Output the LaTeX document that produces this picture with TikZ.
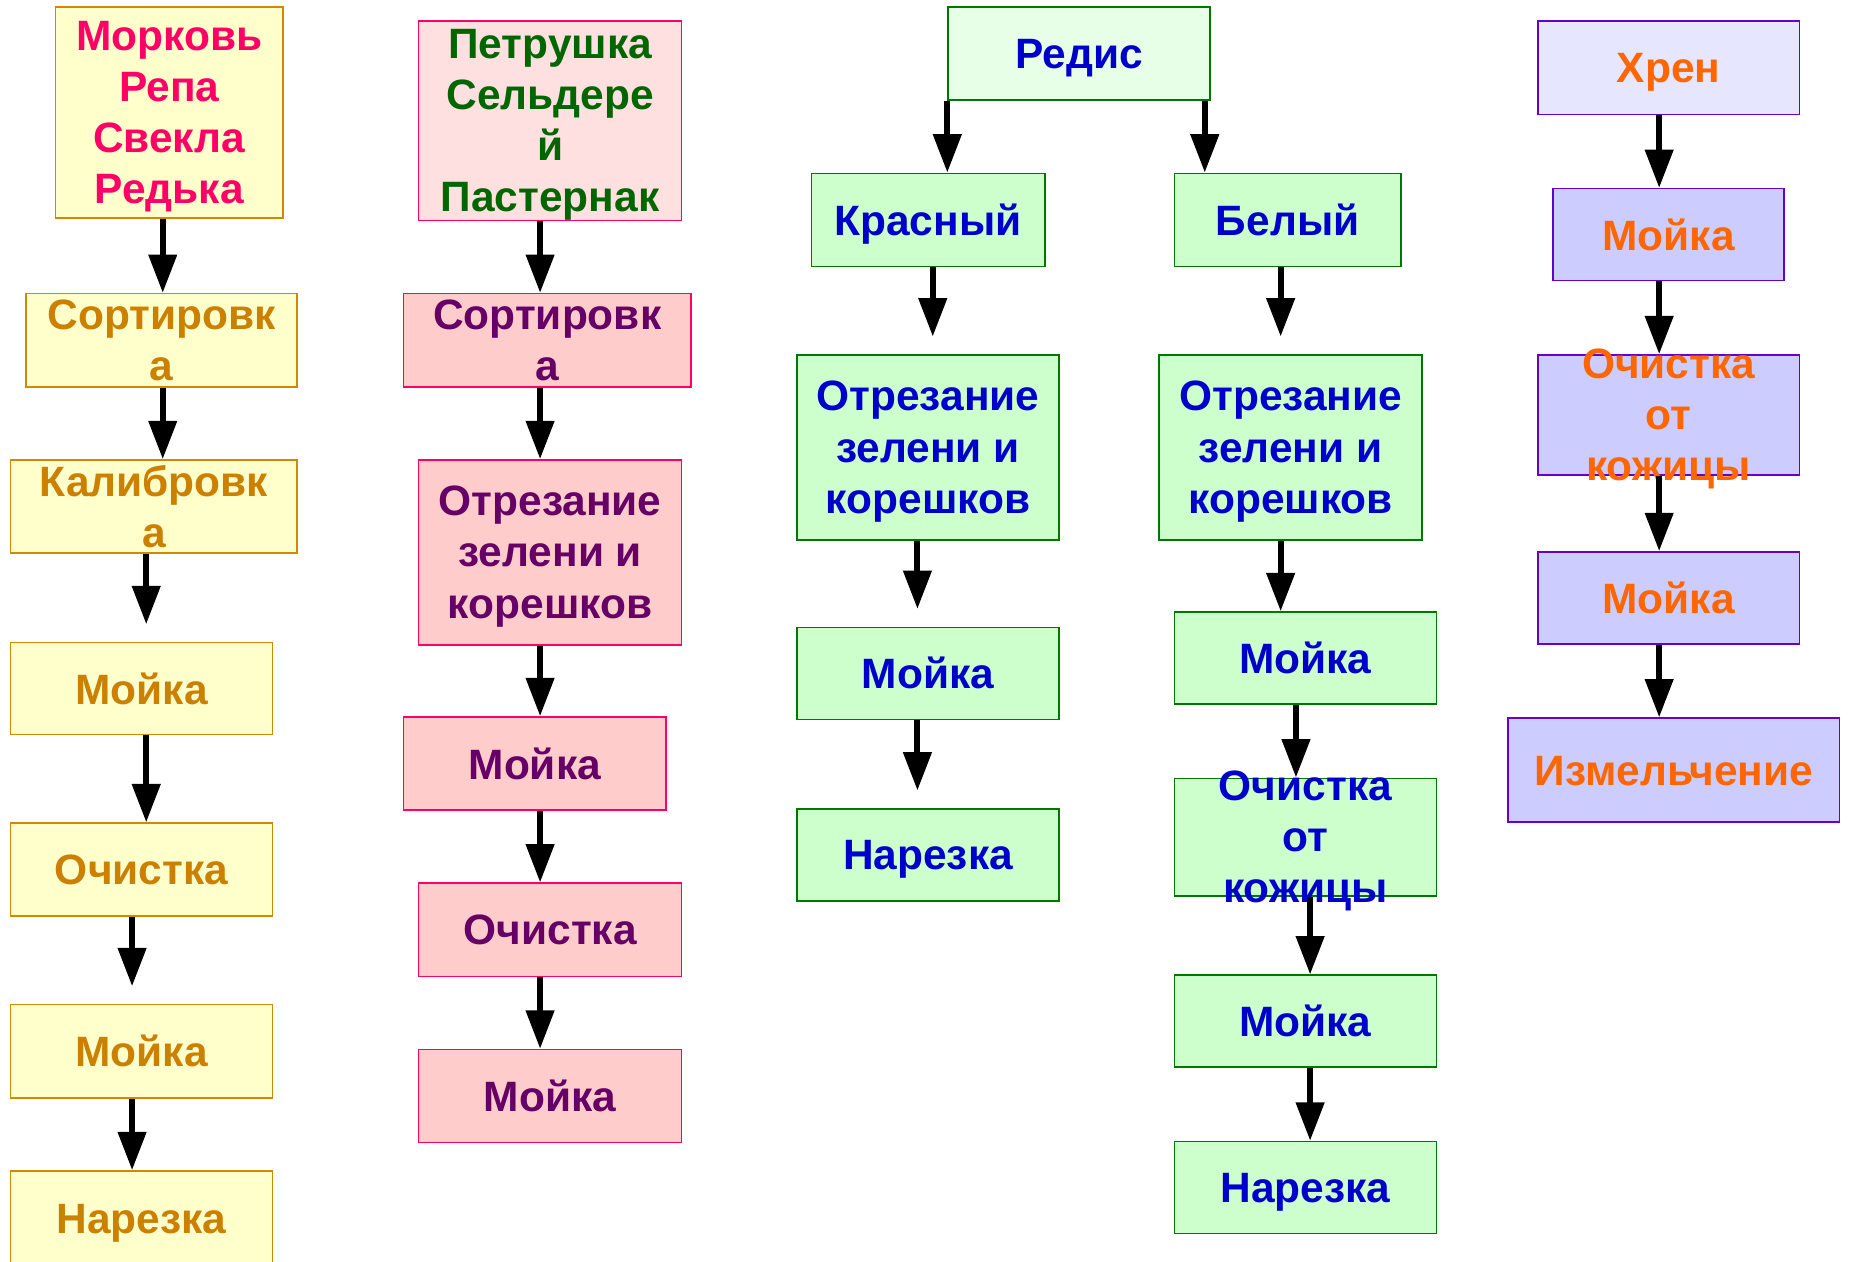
\documentclass[tikz,border=0pt]{standalone}
\usepackage{fontspec}
\setmainfont{Liberation Sans}
\usepackage{xcolor}
\usetikzlibrary{arrows.meta, fit, calc}

\definecolor{yfill}{HTML}{FFFFCC}
\definecolor{yedge}{HTML}{D08A00}
\definecolor{ytext}{HTML}{CC8000}
\definecolor{ytitle}{HTML}{FF0066}
\definecolor{pfill}{HTML}{FFCCCC}
\definecolor{plight}{HTML}{FFE0E0}
\definecolor{pedge}{HTML}{FF0066}
\definecolor{ptext}{HTML}{660066}
\definecolor{ptitle}{HTML}{006600}
\definecolor{gfill}{HTML}{CCFFCC}
\definecolor{glight}{HTML}{E6FFE6}
\definecolor{gedge}{HTML}{007700}
\definecolor{gtext}{HTML}{0000CC}
\definecolor{lfill}{HTML}{CCCCFF}
\definecolor{llight}{HTML}{E6E6FF}
\definecolor{ledge}{HTML}{6600CC}
\definecolor{ltext}{HTML}{FF6600}

\newcommand{\boxstrut}{\rule[-4.5pt]{0pt}{20.1pt}}

\begin{document}
\begin{tikzpicture}[x=0.6pt, y=-0.6pt,
    box/.style={draw, line width=0.8pt, inner sep=0pt},
    txt/.style={inner sep=0pt, align=center, yshift=-2.1pt,
        font=\bfseries\fontsize{21.6}{26}\selectfont,
        execute at begin node=\boxstrut, execute at end node=\boxstrut},
    ybox/.style={box, draw=yedge, fill=yfill},
    pbox/.style={box, draw=pedge, fill=pfill},
    gbox/.style={box, draw=gedge, fill=gfill},
    lbox/.style={box, draw=ledge, fill=lfill},
    flow/.style={line width=3pt, -{Triangle[length=19.5pt, width=14pt]}}]

    \useasboundingbox (0,0) rectangle (1568,1070);

    % carrot, turnip, beet, radish
    \node[ybox, fit={(47,6) (240,185)}] (c1a) {};
    \node[txt, text=ytitle] (c1a-t) at (c1a) {Морковь\\Репа\\Свекла\\Редька};
    \node[ybox, fit={(22,249) (252,328)}] (c1b) {};
    \node[txt, text=ytext] (c1b-t) at (c1b) {Сортировк\\а};
    \node[ybox, fit={(9,390) (252,469)}] (c1c) {};
    \node[txt, text=ytext] (c1c-t) at (c1c) {Калибровк\\а};
    \node[ybox, fit={(9,545) (231,623)}] (c1d) {};
    \node[txt, text=ytext] (c1d-t) at (c1d) {Мойка};
    \node[ybox, fit={(9,698) (231,777)}] (c1e) {};
    \node[txt, text=ytext] (c1e-t) at (c1e) {Очистка};
    \node[ybox, fit={(9,852) (231,931)}] (c1f) {};
    \node[txt, text=ytext] (c1f-t) at (c1f) {Мойка};
    \node[ybox, fit={(9,993) (231,1074)}] (c1g) {};
    \node[txt, text=ytext] (c1g-t) at (c1g) {Нарезка};

    \draw[flow] ($(c1a.south)+(-5.5,0)$) -- ($(c1a.south |- c1b.north)+(-5.5,0)$);
    \draw[flow] ($(c1b.south)+(1,0)$) -- ($(c1b.south |- c1c.north)+(1,0)$);
    \draw[flow, shorten >=9pt] ($(c1c.south)+(-6.5,0)$) -- ($(c1c.south |- c1d.north)+(-6.5,0)$);
    \draw[flow] ($(c1d.south)+(4,0)$) -- ($(c1d.south |- c1e.north)+(4,0)$);
    \draw[flow, shorten >=9pt] ($(c1e.south)+(-8,0)$) -- ($(c1e.south |- c1f.north)+(-8,0)$);
    \draw[flow] ($(c1f.south)+(-8,0)$) -- ($(c1f.south |- c1g.north)+(-8,0)$);

    % parsley, celery, parsnip
    \node[pbox, fill=plight, fit={(355,18) (578,187)}] (c2a) {};
    \node[txt, text=ptitle] (c2a-t) at (c2a) {Петрушка\\Сельдере\\й\\Пастернак};
    \node[pbox, fit={(342,249) (586,328)}] (c2b) {};
    \node[txt, text=ptext] (c2b-t) at (c2b) {Сортировк\\а};
    \node[pbox, fit={(355,390) (578,547)}] (c2c) {};
    \node[txt, text=ptext] (c2c-t) at (c2c) {Отрезание\\зелени и\\корешков};
    \node[pbox, fit={(342,608) (565,687)}] (c2d) {};
    \node[txt, text=ptext] (c2d-t) at (c2d) {Мойка};
    \node[pbox, fit={(355,749) (578,828)}] (c2e) {};
    \node[txt, text=ptext] (c2e-t) at (c2e) {Очистка};
    \node[pbox, fit={(355,890) (578,969)}] (c2f) {};
    \node[txt, text=ptext] (c2f-t) at (c2f) {Мойка};

    \draw[flow] ($(c2a.south)+(-8.5,0)$) -- ($(c2a.south |- c2b.north)+(-8.5,0)$);
    \draw[flow] ($(c2b.south)+(-6,0)$) -- ($(c2b.south |- c2c.north)+(-6,0)$);
    \draw[flow] ($(c2c.south)+(-8.5,0)$) -- ($(c2c.south |- c2d.north)+(-8.5,0)$);
    \draw[flow] ($(c2d.south)+(4.5,0)$) -- ($(c2d.south |- c2e.north)+(4.5,0)$);
    \draw[flow] ($(c2e.south)+(-8.5,0)$) -- ($(c2e.south |- c2f.north)+(-8.5,0)$);

    % radish
    \node[gbox, fill=glight, fit={(804,6) (1026,85)}] (c3a) {};
    \node[txt, text=gtext] (c3a-t) at (c3a) {Редис};
    \node[gbox, fit={(688,147) (886,226)}] (c3b) {};
    \node[txt, text=gtext] (c3b-t) at (c3b) {Красный};
    \node[gbox, fit={(676,301) (898,458)}] (c3c) {};
    \node[txt, text=gtext] (c3c-t) at (c3c) {Отрезание\\зелени и\\корешков};
    \node[gbox, fit={(676,532) (898,610)}] (c3d) {};
    \node[txt, text=gtext] (c3d-t) at (c3d) {Мойка};
    \node[gbox, fit={(676,686) (898,764)}] (c3e) {};
    \node[txt, text=gtext] (c3e-t) at (c3e) {Нарезка};
    \node[gbox, fit={(996,147) (1188,226)}] (c3f) {};
    \node[txt, text=gtext] (c3f-t) at (c3f) {Белый};
    \node[gbox, fit={(983,301) (1206,458)}] (c3g) {};
    \node[txt, text=gtext] (c3g-t) at (c3g) {Отрезание\\зелени и\\корешков};
    \node[gbox, fit={(996,519) (1218,597)}] (c3h) {};
    \node[txt, text=gtext] (c3h-t) at (c3h) {Мойка};
    \node[gbox, fit={(996,660) (1218,760)}] (c3i) {};
    \node[txt, text=gtext] (c3i-t) at (c3i) {Очистка\\от\\кожицы};
    \node[gbox, fit={(996,827) (1218,905)}] (c3j) {};
    \node[txt, text=gtext] (c3j-t) at (c3j) {Мойка};
    \node[gbox, fit={(996,968) (1218,1046)}] (c3k) {};
    \node[txt, text=gtext] (c3k-t) at (c3k) {Нарезка};

    \draw[flow] (c3a.south west) -- (c3a.south west |- c3b.north);
    \draw[flow] ($(c3a.south east)+(-5,0)$) -- ($(c3a.south east |- c3f.north)+(-5,0)$);
    \draw[flow, shorten >=9pt] ($(c3b.south)+(4,0)$) -- ($(c3b.south |- c3c.north)+(4,0)$);
    \draw[flow, shorten >=9pt] ($(c3c.south)+(-9,0)$) -- ($(c3c.south |- c3d.north)+(-9,0)$);
    \draw[flow, shorten >=9pt] ($(c3d.south)+(-9,0)$) -- ($(c3d.south |- c3e.north)+(-9,0)$);
    \draw[flow, shorten >=9pt] ($(c3f.south)+(-6,0)$) -- ($(c3f.south |- c3g.north)+(-6,0)$);
    \draw[flow] ($(c3g.south)+(-8.5,0)$) -- ($(c3g.south |- c3h.north)+(-8.5,0)$);
    \draw[flow] ($(c3h.south)+(-8,0)$) -- ($(c3h.south |- c3i.north)+(-8,0)$);
    \draw[flow] ($(c3i.south)+(4,0)$) -- ($(c3i.south |- c3j.north)+(4,0)$);
    \draw[flow] ($(c3j.south)+(4,0)$) -- ($(c3j.south |- c3k.north)+(4,0)$);

    % horseradish
    \node[lbox, fill=llight, fit={(1304,18) (1526,97)}] (c4a) {};
    \node[txt, text=ltext] (c4a-t) at (c4a) {Хрен};
    \node[lbox, fit={(1317,160) (1513,238)}] (c4b) {};
    \node[txt, text=ltext] (c4b-t) at (c4b) {Мойка};
    \node[lbox, fit={(1304,301) (1526,403)}] (c4c) {};
    \node[txt, text=ltext] (c4c-t) at (c4c) {Очистка\\от\\кожицы};
    \node[lbox, fit={(1304,468) (1526,546)}] (c4d) {};
    \node[txt, text=ltext] (c4d-t) at (c4d) {Мойка};
    \node[lbox, fit={(1279,609) (1560,697)}] (c4e) {};
    \node[txt, text=ltext] (c4e-t) at (c4e) {Измельчение};

    \draw[flow] ($(c4a.south)+(-8,0)$) -- ($(c4a.south |- c4b.north)+(-8,0)$);
    \draw[flow] ($(c4b.south)+(-8,0)$) -- ($(c4b.south |- c4c.north)+(-8,0)$);
    \draw[flow] ($(c4c.south)+(-8,0)$) -- ($(c4c.south |- c4d.north)+(-8,0)$);
    \draw[flow] ($(c4d.south)+(-8,0)$) -- ($(c4d.south |- c4e.north)+(-8,0)$);

\end{tikzpicture}
\end{document}
